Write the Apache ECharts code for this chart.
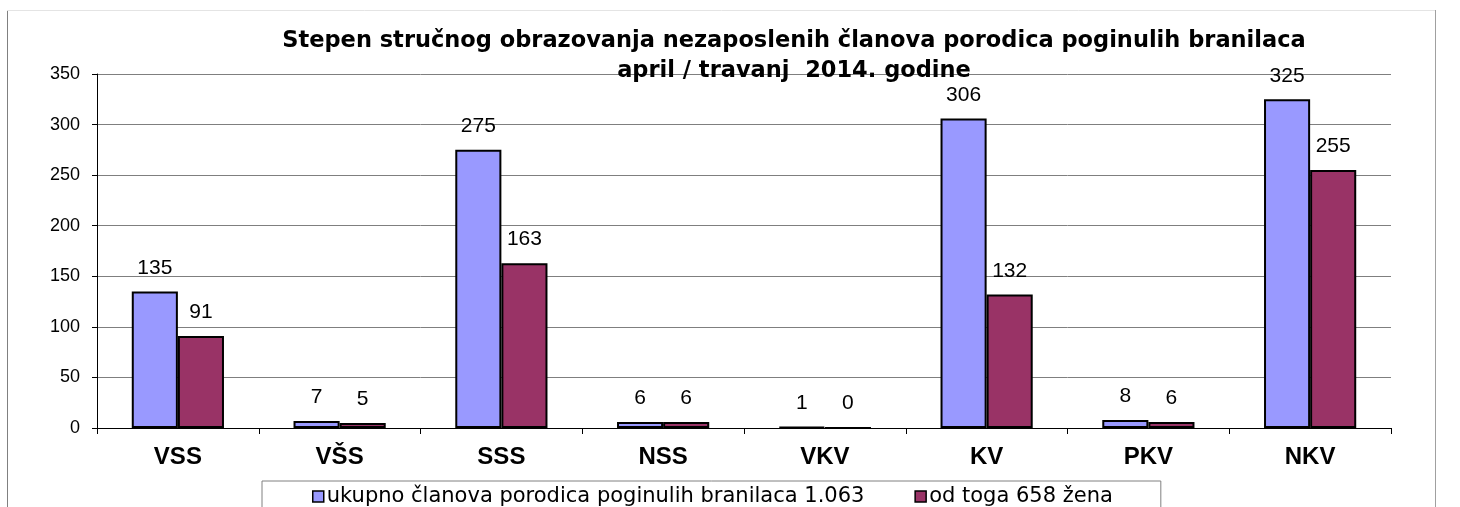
<!DOCTYPE html>
<html>
<head>
<meta charset="utf-8">
<script src="https://cdn.jsdelivr.net/npm/echarts@6/dist/echarts.min.js"></script>
<style>
  html, body { margin: 0; padding: 0; background: #fff; }
  #chart { width: 1460px; height: 507px; }
</style>
</head>
<body>
<div id="chart"></div>
<script>
// podaci
var categories = ['VSS', 'VŠS', 'SSS', 'NSS', 'VKV', 'KV', 'PKV', 'NKV'];
var ukupno = [135, 7, 275, 6, 1, 306, 8, 325];
var zene = [91, 5, 163, 6, 0, 132, 6, 255];
var seriesNames = ['ukupno članova porodica poginulih branilaca 1.063', 'od toga 658 žena'];
var yTicks = [0, 50, 100, 150, 200, 250, 300, 350];

var font = 'Arial, "Liberation Sans", sans-serif';
var wideFont = '"DejaVu Sans", Arial, sans-serif';
var myChart = echarts.init(document.getElementById('chart'));

var barLabel = {
    show: true,
    position: 'top',
    distance: 13,
    color: '#000',
    fontSize: 21,
    fontFamily: font
};

var option = {
    animation: false,
    backgroundColor: '#fff',
    title: {
        text: 'Stepen stručnog obrazovanja nezaposlenih članova porodica poginulih branilaca\napril / travanj  2014. godine',
        left: 794,
        top: 26,
        padding: 0,
        textAlign: 'center',
        textStyle: {
            fontFamily: wideFont,
            fontSize: 22.5,
            fontWeight: 'bold',
            color: '#000',
            lineHeight: 30
        }
    },
    legend: {
        left: 262,
        top: 481,
        padding: [5, 48, 12, 50],
        itemGap: 50,
        itemWidth: 11,
        itemHeight: 11,
        icon: 'rect',
        borderColor: '#808080',
        borderWidth: 1,
        textStyle: { fontFamily: wideFont, fontSize: 21, color: '#000', padding: [0, 0, 0, -2] },
        itemStyle: { borderColor: '#000', borderWidth: 1.5 },
        data: seriesNames
    },
    grid: {
        left: 97,
        right: 69,
        top: 74,
        bottom: 79,
        containLabel: false
    },
    xAxis: {
        type: 'category',
        data: categories,
        axisLine: { lineStyle: { color: '#000', width: 1 } },
        axisTick: { show: true, length: 6, lineStyle: { color: '#000' } },
        axisLabel: {
            margin: 17,
            fontFamily: font,
            fontSize: 24,
            fontWeight: 'bold',
            color: '#000'
        }
    },
    yAxis: {
        type: 'value',
        min: yTicks[0],
        max: yTicks[yTicks.length - 1],
        interval: 50,
        axisLine: { show: true, lineStyle: { color: '#000', width: 1 } },
        axisTick: { show: true, length: 5, lineStyle: { color: '#000' } },
        axisLabel: { margin: 17, fontFamily: font, fontSize: 18, color: '#000' },
        splitLine: { lineStyle: { color: '#7f7f7f', width: 1 } }
    },
    series: [
        {
            name: seriesNames[0],
            type: 'bar',
            data: ukupno,
            barGap: '0%',
            barCategoryGap: '43%',
            itemStyle: { color: '#9999ff', borderColor: '#000', borderWidth: 2 },
            label: barLabel
        },
        {
            name: seriesNames[1],
            type: 'bar',
            data: zene,
            itemStyle: { color: '#993366', borderColor: '#000', borderWidth: 2 },
            label: barLabel
        }
    ],
    graphic: [
        { type: 'line', shape: { x1: 7.5, y1: 10, x2: 7.5, y2: 507 }, style: { stroke: '#808080', lineWidth: 1 } },
        { type: 'line', shape: { x1: 7, y1: 10.5, x2: 1436, y2: 10.5 }, style: { stroke: '#e4e4e4', lineWidth: 1 } },
        { type: 'line', shape: { x1: 1435.5, y1: 10, x2: 1435.5, y2: 507 }, style: { stroke: '#a0a0a0', lineWidth: 1 } }
    ]
};

myChart.setOption(option);
</script>
</body>
</html>
